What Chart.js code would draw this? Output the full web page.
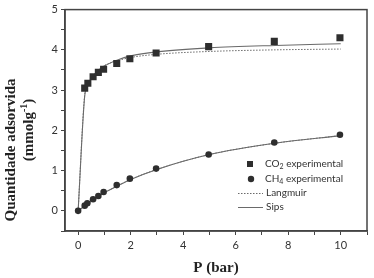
<!DOCTYPE html>
<html>
<head>
<meta charset="utf-8">
<script src="https://cdn.jsdelivr.net/npm/chart.js@4.4.1/dist/chart.umd.min.js"></script>
<style>
  html, body { margin: 0; padding: 0; background: #fff; }
  #wrap { width: 374px; height: 278px; }
</style>
</head>
<body>
<div id="wrap"><canvas id="isoChart"></canvas></div>
<script>
// experimental points
const co2P = [0.25, 0.37, 0.57, 0.77, 0.97, 1.47, 1.97, 2.97, 4.97, 7.47, 9.97];
const co2Q = [3.05, 3.17, 3.33, 3.44, 3.52, 3.66, 3.78, 3.92, 4.08, 4.21, 4.30];
const ch4P = [0, 0.25, 0.35, 0.57, 0.77, 0.97, 1.47, 1.97, 2.97, 4.97, 7.47, 9.97];
const ch4Q = [0, 0.13, 0.19, 0.29, 0.37, 0.47, 0.64, 0.80, 1.05, 1.40, 1.70, 1.89];

// fitted curves
const fitP = [0, 0.25, 0.35, 0.5, 0.75, 1, 1.5, 2, 3, 5, 7.5, 10];
const langCO2 = [0, 2.88, 3.10, 3.30, 3.49, 3.61, 3.73, 3.81, 3.89, 3.96, 4.00, 4.02];
const sipsCO2 = [0, 2.85, 3.08, 3.29, 3.48, 3.60, 3.75, 3.85, 3.95, 4.05, 4.11, 4.15];
const langCH4 = [0, 0.12, 0.17, 0.24, 0.35, 0.45, 0.62, 0.78, 1.03, 1.40, 1.68, 1.87];
const sipsCH4 = [0, 0.12, 0.17, 0.24, 0.35, 0.45, 0.62, 0.78, 1.03, 1.40, 1.68, 1.87];

// axis ticks
const xTicks = [0, 1, 2, 3, 4, 5, 6, 7, 8, 9, 10, 11];
const xLabels = [0, 2, 4, 6, 8, 10];
const yTicks = [-0.5, 0, 0.5, 1, 1.5, 2, 2.5, 3, 3.5, 4, 4.5, 5];
const yLabels = [0, 1, 2, 3, 4, 5];

const pts = (xs, ys) => xs.map((x, i) => ({ x: x, y: ys[i] }));

const markColor = '#2e2e2e';
const lineColor = '#6a6a6a';
const axisColor = '#444';

const frame = {
    id: 'frame',
    afterDraw(chart) {
        const { ctx, chartArea: a } = chart;
        ctx.save();
        ctx.strokeStyle = axisColor;
        ctx.lineWidth = 1.5;
        ctx.strokeRect(a.left, a.top, a.right - a.left, a.bottom - a.top);

        // y title, two lines
        ctx.fillStyle = '#222';
        ctx.textAlign = 'center';
        ctx.textBaseline = 'middle';
        ctx.font = 'bold 15px "Liberation Serif"';
        ctx.translate(11, 150);
        ctx.rotate(-Math.PI / 2);
        ctx.fillText('Quantidade adsorvida', 0, 0);
        ctx.restore();

        ctx.save();
        ctx.fillStyle = '#222';
        ctx.textBaseline = 'middle';
        ctx.translate(29, 130);
        ctx.rotate(-Math.PI / 2);
        const big = 'bold 15px "Liberation Serif"';
        const small = 'bold 10px "Liberation Serif"';
        ctx.font = big;
        const w1 = ctx.measureText('(mmolg').width;
        const w3 = ctx.measureText(')').width;
        ctx.font = small;
        const w2 = ctx.measureText('-1').width;
        let x0 = -(w1 + w2 + w3) / 2;
        ctx.font = big;
        ctx.textAlign = 'left';
        ctx.fillText('(mmolg', x0, 0);
        ctx.font = small;
        ctx.fillText('-1', x0 + w1, -5);
        ctx.font = big;
        ctx.fillText(')', x0 + w1 + w2, 0);
        ctx.restore();

        // legend
        ctx.save();
        ctx.fillStyle = markColor;
        ctx.fillRect(247, 161, 6, 6);
        ctx.beginPath();
        ctx.arc(251, 179, 3.2, 0, Math.PI * 2);
        ctx.fill();
        ctx.strokeStyle = lineColor;
        ctx.lineWidth = 1;
        ctx.setLineDash([1.5, 1.5]);
        ctx.beginPath();
        ctx.moveTo(238, 193.5); ctx.lineTo(263, 193.5);
        ctx.stroke();
        ctx.setLineDash([]);
        ctx.beginPath();
        ctx.moveTo(238, 207.5); ctx.lineTo(263, 207.5);
        ctx.stroke();

        ctx.fillStyle = '#333';
        ctx.textBaseline = 'middle';
        ctx.textAlign = 'left';
        const lf = '10px Lato';
        const sf = '7px Lato';
        const sub = (a, s, b, x, y) => {
            ctx.font = lf;
            ctx.fillText(a, x, y);
            let w = ctx.measureText(a).width;
            ctx.font = sf;
            ctx.fillText(s, x + w, y + 3);
            w += ctx.measureText(s).width;
            ctx.font = lf;
            ctx.fillText(b, x + w, y);
        };
        sub('CO', '2', ' experimental', 265, 164);
        sub('CH', '4', ' experimental', 265, 179);
        ctx.font = lf;
        ctx.fillText('Langmuir', 266, 193);
        ctx.fillText('Sips', 266, 207);
        ctx.restore();
    }
};

const ctx = document.getElementById('isoChart').getContext('2d');
new Chart(ctx, {
    type: 'line',
    data: {
        datasets: [
            {
                label: 'CO2 experimental',
                data: pts(co2P, co2Q),
                showLine: false,
                pointStyle: 'rect',
                pointRadius: 5,
                backgroundColor: markColor,
                borderColor: markColor,
                borderWidth: 0,
                order: 0
            },
            {
                label: 'CH4 experimental',
                data: pts(ch4P, ch4Q),
                showLine: false,
                pointStyle: 'circle',
                pointRadius: 3.3,
                backgroundColor: markColor,
                borderColor: markColor,
                borderWidth: 0,
                order: 0
            },
            {
                label: 'Langmuir',
                data: pts(fitP, langCO2),
                borderColor: lineColor,
                borderWidth: 1,
                borderDash: [1.5, 1.5],
                pointRadius: 0,
                cubicInterpolationMode: 'monotone',
                order: 1
            },
            {
                label: 'Langmuir CH4',
                data: pts(fitP, langCH4),
                borderColor: lineColor,
                borderWidth: 1,
                borderDash: [1.5, 1.5],
                pointRadius: 0,
                cubicInterpolationMode: 'monotone',
                order: 1
            },
            {
                label: 'Sips',
                data: pts(fitP, sipsCO2),
                borderColor: lineColor,
                borderWidth: 1.1,
                pointRadius: 0,
                cubicInterpolationMode: 'monotone',
                order: 1
            },
            {
                label: 'Sips CH4',
                data: pts(fitP, sipsCH4),
                borderColor: lineColor,
                borderWidth: 1.1,
                pointRadius: 0,
                cubicInterpolationMode: 'monotone',
                order: 1
            }
        ]
    },
    options: {
        responsive: true,
        maintainAspectRatio: false,
        animation: false,
        layout: { padding: { top: 9, right: 7, left: 0, bottom: 0 } },
        plugins: {
            legend: { display: false },
            tooltip: { enabled: false }
        },
        scales: {
            x: {
                type: 'linear',
                min: -0.5,
                max: 11,
                afterBuildTicks: s => { s.ticks = xTicks.map(v => ({ value: v })); },
                afterFit: s => { s.height = 47; },
                ticks: {
                    autoSkip: false,
                    maxRotation: 0,
                    padding: 4,
                    color: '#333',
                    font: { family: 'Lato', size: 11 },
                    callback: v => xLabels.includes(v) ? String(v) : ''
                },
                grid: { drawOnChartArea: false, tickLength: 4, color: axisColor, tickWidth: 1 },
                border: { color: axisColor, width: 1.5 },
                title: {
                    display: true,
                    text: 'P (bar)',
                    color: '#222',
                    font: { family: 'Liberation Serif', size: 15, weight: 'bold' },
                    padding: { top: 0, bottom: 1 }
                }
            },
            y: {
                type: 'linear',
                min: -0.5,
                max: 5,
                afterBuildTicks: s => { s.ticks = yTicks.map(v => ({ value: v })); },
                afterFit: s => { s.width = 65; },
                ticks: {
                    autoSkip: false,
                    padding: 3,
                    color: '#333',
                    font: { family: 'Lato', size: 11 },
                    callback: v => yLabels.includes(v) ? String(v) : ''
                },
                grid: { drawOnChartArea: false, tickLength: 4, color: axisColor, tickWidth: 1 },
                border: { color: axisColor, width: 1.5 }
            }
        }
    },
    plugins: [frame]
});
</script>
</body>
</html>
